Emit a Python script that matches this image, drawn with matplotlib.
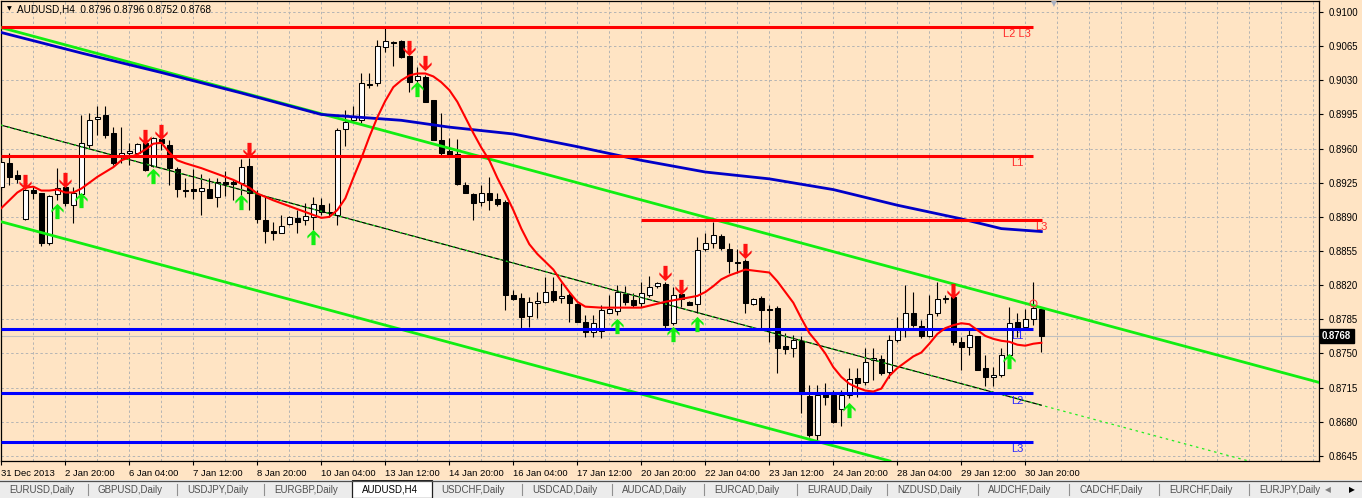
import numpy as np
import matplotlib
matplotlib.use("Agg")
import matplotlib.pyplot as plt
import matplotlib.transforms as mtransforms
from matplotlib.path import Path
from matplotlib.patches import Rectangle

plt.rcParams['font.family'] = ['Liberation Sans', 'DejaVu Sans']

############################### DATA ######################################
# AUDUSD H4 candles, one entry per bar (bar 0 = 31 Dec 2013)
opens = [0.8921, 0.8945, 0.8933, 0.8888, 0.8918, 0.8914, 0.8863, 0.8913, 0.8921, 0.8902,
         0.8913, 0.8964, 0.8990, 0.8994, 0.8976, 0.8952, 0.8955, 0.8955, 0.8966, 0.8942,
         0.8970, 0.8964, 0.8939, 0.8918, 0.8919, 0.8917, 0.8919, 0.8910, 0.8926, 0.8926,
         0.8925, 0.8942, 0.8913, 0.8887, 0.8876, 0.8874, 0.8883, 0.8889, 0.8887, 0.8890,
         0.8902, 0.8895, 0.8892, 0.8980, 0.8989, 0.8989, 0.9026, 0.9027, 0.9064, 0.9069,
         0.9070, 0.9055, 0.9030, 0.9033, 0.9010, 0.8969, 0.8958, 0.8954, 0.8923, 0.8913,
         0.8905, 0.8914, 0.8908, 0.8905, 0.8810, 0.8807, 0.8788, 0.8802, 0.8803, 0.8814,
         0.8807, 0.8810, 0.8801, 0.8782, 0.8772, 0.8773, 0.8792, 0.8794, 0.8811, 0.8805,
         0.8802, 0.8810, 0.8819, 0.8821, 0.8781, 0.8811, 0.8803, 0.8801, 0.8857, 0.8863,
         0.8870, 0.8857, 0.8844, 0.8845, 0.8801, 0.8807, 0.8796, 0.8797, 0.8758, 0.8756,
         0.8763, 0.8706, 0.8666, 0.8708, 0.8707, 0.8693, 0.8707, 0.8725, 0.8721, 0.8743,
         0.8744, 0.8731, 0.8764, 0.8776, 0.8791, 0.8778, 0.8768, 0.8791, 0.8806, 0.8808,
         0.8762, 0.8757, 0.8768, 0.8735, 0.8726, 0.8728, 0.8748, 0.8782, 0.8777, 0.8785,
         0.8796]
highs = [0.8950, 0.8955, 0.8938, 0.8922, 0.8922, 0.8915, 0.8912, 0.8940, 0.8930, 0.8921,
         0.8994, 0.8997, 0.9004, 0.9004, 0.8982, 0.8982, 0.8966, 0.8966, 0.8967, 0.8972,
         0.8972, 0.8969, 0.8941, 0.8930, 0.8939, 0.8934, 0.8930, 0.8930, 0.8937, 0.8928,
         0.8949, 0.8950, 0.8918, 0.8910, 0.8885, 0.8892, 0.8891, 0.8897, 0.8904, 0.8910,
         0.8909, 0.8904, 0.8981, 0.9000, 0.9004, 0.9037, 0.9038, 0.9071, 0.9084, 0.9070,
         0.9071, 0.9056, 0.9044, 0.9035, 0.9010, 0.8996, 0.8971, 0.8970, 0.8926, 0.8915,
         0.8923, 0.8931, 0.8914, 0.8907, 0.8815, 0.8812, 0.8808, 0.8813, 0.8828, 0.8828,
         0.8822, 0.8812, 0.8802, 0.8789, 0.8789, 0.8800, 0.8810, 0.8820, 0.8819, 0.8812,
         0.8823, 0.8829, 0.8823, 0.8823, 0.8818, 0.8812, 0.8804, 0.8869, 0.8874, 0.8885,
         0.8872, 0.8863, 0.8857, 0.8847, 0.8807, 0.8809, 0.8800, 0.8799, 0.8771, 0.8769,
         0.8768, 0.8718, 0.8718, 0.8720, 0.8713, 0.8713, 0.8735, 0.8735, 0.8756, 0.8756,
         0.8748, 0.8769, 0.8787, 0.8820, 0.8813, 0.8784, 0.8810, 0.8823, 0.8810, 0.8813,
         0.8767, 0.8776, 0.8768, 0.8748, 0.8736, 0.8756, 0.8798, 0.8791, 0.8796, 0.8823,
         0.8796]
lows = [0.8918, 0.8923, 0.8925, 0.8887, 0.8908, 0.8860, 0.8861, 0.8907, 0.8901, 0.8884,
        0.8911, 0.8961, 0.8974, 0.8971, 0.8943, 0.8945, 0.8943, 0.8953, 0.8937, 0.8941,
        0.8959, 0.8923, 0.8910, 0.8910, 0.8908, 0.8892, 0.8909, 0.8900, 0.8911, 0.8907,
        0.8912, 0.8897, 0.8884, 0.8863, 0.8866, 0.8873, 0.8882, 0.8873, 0.8882, 0.8877,
        0.8892, 0.8890, 0.8882, 0.8963, 0.8987, 0.8986, 0.9022, 0.9024, 0.9059, 0.9045,
        0.9053, 0.9018, 0.9023, 0.9008, 0.8969, 0.8953, 0.8951, 0.8923, 0.8914, 0.8887,
        0.8901, 0.8897, 0.8901, 0.8795, 0.8805, 0.8776, 0.8777, 0.8786, 0.8802, 0.8803,
        0.8802, 0.8782, 0.8782, 0.8767, 0.8767, 0.8766, 0.8791, 0.8789, 0.8800, 0.8798,
        0.8798, 0.8808, 0.8817, 0.8776, 0.8779, 0.8798, 0.8800, 0.8791, 0.8855, 0.8858,
        0.8856, 0.8832, 0.8832, 0.8791, 0.8800, 0.8774, 0.8762, 0.8730, 0.8749, 0.8746,
        0.8689, 0.8664, 0.8661, 0.8697, 0.8679, 0.8676, 0.8704, 0.8705, 0.8718, 0.8723,
        0.8728, 0.8725, 0.8762, 0.8767, 0.8777, 0.8766, 0.8767, 0.8788, 0.8802, 0.8759,
        0.8733, 0.8748, 0.8733, 0.8717, 0.8717, 0.8726, 0.8746, 0.8767, 0.8774, 0.8779,
        0.8752]
closes = [0.8946, 0.8931, 0.8929, 0.8918, 0.8914, 0.8863, 0.8911, 0.8920, 0.8904, 0.8914,
          0.8966, 0.8989, 0.8992, 0.8974, 0.8945, 0.8956, 0.8958, 0.8965, 0.8938, 0.8971,
          0.8966, 0.8940, 0.8919, 0.8917, 0.8917, 0.8920, 0.8909, 0.8926, 0.8924, 0.8924,
          0.8941, 0.8914, 0.8888, 0.8876, 0.8873, 0.8881, 0.8890, 0.8885, 0.8891, 0.8903,
          0.8895, 0.8894, 0.8979, 0.8987, 0.8993, 0.9027, 0.9025, 0.9065, 0.9070, 0.9068,
          0.9054, 0.9028, 0.9034, 0.9008, 0.8969, 0.8955, 0.8952, 0.8924, 0.8914, 0.8904,
          0.8914, 0.8907, 0.8903, 0.8810, 0.8806, 0.8787, 0.8803, 0.8804, 0.8813, 0.8805,
          0.8809, 0.8802, 0.8782, 0.8772, 0.8781, 0.8795, 0.8796, 0.8813, 0.8803, 0.8800,
          0.8812, 0.8818, 0.8822, 0.8779, 0.8810, 0.8806, 0.8800, 0.8856, 0.8863, 0.8871,
          0.8858, 0.8845, 0.8843, 0.8802, 0.8806, 0.8795, 0.8795, 0.8756, 0.8755, 0.8764,
          0.8708, 0.8666, 0.8707, 0.8705, 0.8680, 0.8707, 0.8724, 0.8720, 0.8741, 0.8745,
          0.8730, 0.8764, 0.8776, 0.8791, 0.8779, 0.8768, 0.8790, 0.8806, 0.8807, 0.8762,
          0.8757, 0.8769, 0.8733, 0.8726, 0.8728, 0.8748, 0.8781, 0.8774, 0.8785, 0.8797,
          0.8768]

date_labels = ["31 Dec 2013", "2 Jan 20:00", "6 Jan 04:00", "7 Jan 12:00", "8 Jan 20:00",
               "10 Jan 04:00", "13 Jan 12:00", "14 Jan 20:00", "16 Jan 04:00", "17 Jan 12:00",
               "20 Jan 20:00", "22 Jan 04:00", "23 Jan 12:00", "24 Jan 20:00", "28 Jan 04:00",
               "29 Jan 12:00", "30 Jan 20:00"]
date_bars = [0, 8, 16, 24, 32, 40, 48, 56, 64, 72, 80, 88, 96, 104, 112, 120, 128]

price_ticks = [0.8645, 0.8680, 0.8715, 0.8750, 0.8785, 0.8820, 0.8855, 0.8890,
               0.8925, 0.8960, 0.8995, 0.9030, 0.9065, 0.9100]

# red (fast) moving average
ma_red_bars = [0, 1, 2, 3, 4, 5, 6, 7, 8, 9, 10, 11, 12, 13, 14, 15, 16, 17, 18, 19, 20, 21, 22, 23,
               25, 27, 29, 31, 32, 34, 36, 38, 40, 41, 42, 43, 44, 45, 46, 47, 48, 49, 50, 51, 52,
               53, 54, 55, 56, 57, 58, 59, 60, 61, 62, 63, 64, 65, 66, 67, 68, 69, 70, 71, 72, 73,
               75, 80, 81, 83, 85, 87, 88, 89, 90, 91, 92, 93, 94, 96, 97, 98, 99, 100, 101, 102,
               103, 104, 105, 106, 107, 108, 109, 110, 111, 112, 113, 114, 115, 116, 117, 118,
               119, 120, 121, 122, 123, 124, 125, 126, 127, 128, 129, 130]
ma_red = [0.8899, 0.8907, 0.8915, 0.8920, 0.8921, 0.8917, 0.8917, 0.8918, 0.8915, 0.8915,
          0.8919, 0.8925, 0.8931, 0.8936, 0.8941, 0.8948, 0.8951, 0.8954, 0.8959, 0.8965,
          0.8966, 0.8956, 0.8948, 0.8945, 0.8940, 0.8934, 0.8928, 0.8920, 0.8914, 0.8907,
          0.8901, 0.8895, 0.8889, 0.8890, 0.8897, 0.8909, 0.8930, 0.8950, 0.8972, 0.8992,
          0.9009, 0.9023, 0.9030, 0.9035, 0.9037, 0.9037, 0.9034, 0.9028, 0.9020, 0.9008,
          0.8992, 0.8976, 0.8961, 0.8948, 0.8930, 0.8914, 0.8897, 0.8878, 0.8862, 0.8852,
          0.8844, 0.8836, 0.8824, 0.8813, 0.8803, 0.8798, 0.8797, 0.8797, 0.8799, 0.8803,
          0.8806, 0.8809, 0.8813, 0.8819, 0.8826, 0.8830, 0.8833, 0.8836, 0.8835, 0.8833,
          0.8824, 0.8813, 0.8802, 0.8786, 0.8771, 0.8761, 0.8750, 0.8736, 0.8726, 0.8719,
          0.8715, 0.8712, 0.8711, 0.8714, 0.8727, 0.8735, 0.8741, 0.8747, 0.8751, 0.8760,
          0.8770, 0.8776, 0.8779, 0.8781, 0.8780, 0.8774, 0.8768, 0.8765, 0.8763, 0.8762,
          0.8759, 0.8758, 0.8760, 0.8761]

# blue (slow) moving average
ma_blue_bars = [0, 10, 20, 30, 40, 50, 56, 64, 72, 80, 88, 96, 104, 112, 120, 125, 130]
ma_blue = [0.9079, 0.9058, 0.9038, 0.9017, 0.8995, 0.8989, 0.8982, 0.8975, 0.8962, 0.8948,
           0.8936, 0.8929, 0.8918, 0.8902, 0.8888, 0.8878, 0.8875]

# green channel: (bar, price) anchors
chan_upper = [(0, 0.9084), (130, 0.8797)]
chan_mid = [(0, 0.8984), (130, 0.8697)]
chan_lower = [(0, 0.8885), (130, 0.8598)]

# horizontal levels: price, first bar, last bar, label, label bar
red_levels = [0.9085, 0.8952, 0.8887]
red_start = [0, 0, 80]
red_end = [129, 129, 130.1]
red_names = ["L2 L3", "L1", "L3"]
red_name_bars = [125.2, 126.2, 129.2]
blue_levels = [0.8775, 0.8709, 0.8659]
blue_names = ["L1", "L2", "L3"]

# signal arrows
down_bars = [3, 8, 18, 20, 31, 51, 53, 83, 85, 93, 119]
down_prices = [0.8926, 0.8928, 0.8972, 0.8977, 0.8959, 0.9063, 0.9048, 0.8832, 0.8818, 0.8855, 0.8814]
up_bars = [7, 10, 19, 30, 39, 52, 77, 84, 87, 106, 126]
up_prices = [0.8896, 0.8907, 0.8932, 0.8905, 0.8869, 0.9021, 0.8778, 0.8770, 0.8780, 0.8692, 0.8742]

last_price = 0.8768
header = "AUDUSD,H4  0.8796 0.8796 0.8752 0.8768"

tab_names = ["EURUSD,Daily", "GBPUSD,Daily", "USDJPY,Daily", "EURGBP,Daily", "AUDUSD,H4",
             "USDCHF,Daily", "USDCAD,Daily", "AUDCAD,Daily", "EURCAD,Daily", "EURAUD,Daily",
             "NZDUSD,Daily", "AUDCHF,Daily", "CADCHF,Daily", "EURCHF,Daily", "EURJPY,Daily"]
active_tab = "AUDUSD,H4"

############################## CHART #################################
W, H = 1362, 498
BG = "#ffe4c4"
fig = plt.figure(figsize=(W / 100, H / 100), dpi=100, facecolor=BG)
ax = fig.add_axes([1 / W, 37 / H, 1318 / W, 460 / H])
ax.set_facecolor(BG)
ax.set_xlim(-0.04, 164.71)
ax.set_ylim(0.86398, 0.91113)

# grid / axes
ax.set_xticks(date_bars)
ax.set_xticklabels(date_labels, ha="left", fontsize=6.8)
ax.set_xticks(np.arange(0, 165, 4), minor=True)
ax.set_yticks(price_ticks)
ax.set_yticklabels(["%.4f" % p for p in price_ticks], fontsize=6.9)
ax.yaxis.tick_right()
ax.tick_params(axis="x", which="major", length=3, pad=3, width=0.8)
ax.tick_params(axis="x", which="minor", length=0)
ax.tick_params(axis="y", length=3, pad=4, width=0.8)
ax.grid(True, which="both", axis="x", color="#b4b4b4", lw=0.7, ls=(0, (2.5, 2.5)), zorder=0)
ax.grid(True, which="major", axis="y", color="#b4b4b4", lw=0.7, ls=(0, (2.5, 2.5)), zorder=0)
ax.set_axisbelow(True)
for s in ax.spines.values():
    s.set_color("black")
    s.set_linewidth(0.9)

# current price line
ax.axhline(last_price, color="#c0c0c0", lw=0.8, zorder=1)

# candles
idx = np.arange(len(opens))
o = np.array(opens)
c = np.array(closes)
ax.vlines(idx, lows, highs, color="black", lw=0.8, zorder=2)
body_bot = np.minimum(o, c)
body_h = np.abs(c - o)
body_col = ["white" if cc >= oo else "black" for oo, cc in zip(o, c)]
ax.bar(idx, body_h, bottom=body_bot, width=0.6, color=body_col, edgecolor="black",
       linewidth=0.75, zorder=3)

# channel
ax.axline(chan_upper[0], chan_upper[1], color="#11ee11", lw=2.0, zorder=4)
ax.axline(chan_lower[0], chan_lower[1], color="#11ee11", lw=2.0, zorder=4)
ax.axline(chan_mid[0], chan_mid[1], color="#22ee22", lw=0.9, ls=(0, (2, 3)), zorder=4)
ax.plot([p[0] for p in chan_mid], [p[1] for p in chan_mid], color="black", lw=0.8, zorder=4)
ax.plot([p[0] for p in chan_mid], [p[1] for p in chan_mid], color="#22ee22", lw=0.9,
        ls=(0, (1.5, 4)), zorder=4)

# moving averages
ax.plot(ma_blue_bars, ma_blue, color="#0000c8", lw=2.0, zorder=5)
ax.plot(ma_red_bars, ma_red, color="#ff0000", lw=1.5, zorder=6)

# horizontal levels
for lv, x0, x1, nm, nb in zip(red_levels, red_start, red_end, red_names, red_name_bars):
    ax.hlines(lv, x0, x1, color="#ff0000", lw=2.2, zorder=5)
    ax.annotate(nm, (nb, lv), xytext=(0, -1.5), textcoords="offset points", va="top",
                ha="left", fontsize=8, color="#ff2a2a", zorder=7)
for lv, nm in zip(blue_levels, blue_names):
    ax.hlines(lv, 0, 129, color="#0000ff", lw=2.2, zorder=5)
    ax.annotate(nm, (126.2, lv), xytext=(0, -1.5), textcoords="offset points", va="top",
                ha="left", fontsize=8, color="#2a2aff", zorder=7)

# arrows
up_path = Path([(0, 1), (0.8, 0.2), (0.8, -0.15), (0.27, 0.38), (0.27, -1), (-0.27, -1),
                (-0.27, 0.38), (-0.8, -0.15), (-0.8, 0.2), (0, 1)])
down_path = Path([(x, -y) for x, y in up_path.vertices])
ax.plot(down_bars, down_prices, ls="none", marker=down_path, ms=11, color="#ff1010",
        mec="none", zorder=8)
ax.plot(up_bars, up_prices, ls="none", marker=up_path, ms=11, color="#11ee11",
        mec="none", zorder=8)
ax.plot(129, 0.8802, marker="o", ms=5, mfc="none", mec="#ff4040", mew=0.8, zorder=8)

# last price box on the price scale
trans = mtransforms.blended_transform_factory(ax.transAxes, ax.transData)
ax.text(1.0 + 3 / 1318, last_price, "0.8768", transform=trans, va="center", ha="left",
        fontsize=6.9, color="white", fontweight="bold",
        bbox=dict(boxstyle="square,pad=0.25", fc="black", ec="black"), zorder=9)

# shift marker and header
fig.text(1054 / W, 1 - 4 / H, "\u25bc", fontsize=5.5, color="#a8b0c0", ha="center",
         va="center", family="DejaVu Sans")
fig.text(9 / W, 1 - 9 / H, "\u25bc", fontsize=4.5, color="black", ha="center",
         va="center", family="DejaVu Sans")
fig.text(17 / W, 1 - 9 / H, header, fontsize=7.2, color="black", ha="left", va="center")

# tab bar
tb = fig.add_axes([0, 0, 1, 18 / H])
tb.set_xlim(0, W)
tb.set_ylim(18, 0)
tb.axis("off")
tb.add_patch(Rectangle((0, 0), W, 18, fc="#ececec", ec="none"))
tb.plot([0, W], [0.5, 0.5], color="#505050", lw=0.9)
tab_x = [9, 98, 187, 274, 362, 441, 532, 622, 714, 807, 897, 988, 1079, 1169, 1259]
for name, tx in zip(tab_names, tab_x):
    if name == active_tab:
        tb.add_patch(Rectangle((352, 0), 80, 18, fc="white", ec="#202020", lw=0.9))
        tb.text(tx, 9.5, name, fontsize=7, color="black", va="center", ha="left")
    else:
        tb.text(tx, 9.5, name, fontsize=7, color="#505050", va="center", ha="left")
        if tx > 20 and tx != 441:
            tb.plot([tx - 10, tx - 10], [3.5, 15], color="#909090", lw=0.8)
tb.text(1328, 9.5, "\u25c0", fontsize=5.5, color="#808080", va="center", ha="center",
        family="DejaVu Sans")
tb.text(1352, 9.5, "\u25b6", fontsize=5.5, color="black", va="center", ha="center",
        family="DejaVu Sans")

plt.savefig("out.png", dpi=100, facecolor=BG)
